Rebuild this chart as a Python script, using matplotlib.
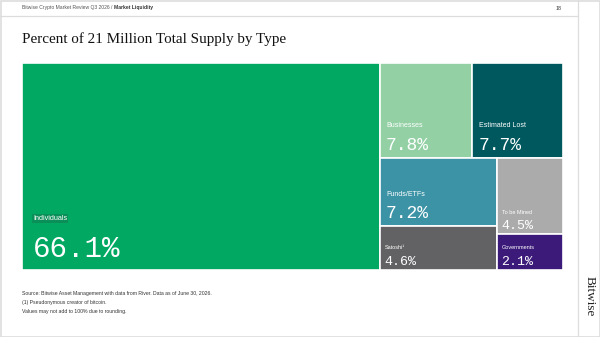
import matplotlib
matplotlib.use("Agg")
import matplotlib.pyplot as plt
from matplotlib.patches import Rectangle
from matplotlib.lines import Line2D

# data
labels = ["Individuals", "Businesses", "Estimated Lost", "Funds/ETFs",
          "Satoshi\u00b9", "To be Mined", "Governments"]
values = [66.1, 7.8, 7.7, 7.2, 4.6, 4.5, 2.1]
colors = ["#00a862", "#93d1a5", "#00585f", "#3c93a6",
          "#626264", "#ababab", "#3b1a7a"]
# how the boxes nest: 'h' splits left->right, 'v' splits top->bottom
layout = ("h", [0, ("v", [("h", [1, 2]),
                          ("h", [("v", [3, 4]), ("v", [5, 6])])])])

title = "Percent of 21 Million Total Supply by Type"
notes = ["Source: Bitwise Asset Management with data from River. Data as of June 30, 2026.",
         "(1) Pseudonymous creator of bitcoin.",
         "Values may not add to 100% due to rounding."]


def total(node):
    if isinstance(node, int):
        return values[node]
    return sum(total(c) for c in node[1])


def place(node, x, y, w, h, out):
    if isinstance(node, int):
        out[node] = (x, y, w, h)
        return
    kind, kids = node
    t = total(node)
    if kind == "h":
        cx = x
        for k in kids:
            kw = w * total(k) / t
            place(k, cx, y, kw, h, out)
            cx += kw
    else:
        cy = y + h
        for k in kids:
            kh = h * total(k) / t
            cy -= kh
            place(k, x, cy, w, kh, out)


W, H = 600, 337
fig = plt.figure(figsize=(6, 3.37), dpi=100)
fig.patch.set_facecolor("white")

ax = fig.add_axes([22 / W, (H - 270) / H, 541 / W, 207 / H])
ax.set_xlim(0, 1)
ax.set_ylim(0, 1)
ax.axis("off")

rects = {}
place(layout, 0, 0, 1, 1, rects)

for i, (x, y, w, h) in rects.items():
    ax.add_patch(Rectangle((x, y), w, h, facecolor=colors[i],
                           edgecolor="white", linewidth=1.2))
    v = values[i]
    box = None
    if v > 50:
        lab_fs, val_fs, dx, dy_val, dy_lab = 5.2, 21, 8, 9.5, 37
        box = dict(boxstyle="square,pad=0.15", facecolor="#0b8f58", edgecolor="none")
    elif v > 7:
        lab_fs, val_fs, dx, dy_val, dy_lab = 5, 13, 5, 5.8, 23
    else:
        lab_fs, val_fs, dx, dy_val, dy_lab = 4, 9.5, 3.6, 3.6, 16
    ax.annotate(labels[i], (x, y), xytext=(dx, dy_lab), textcoords="offset points",
                fontsize=lab_fs, color="white", va="center", ha="left",
                family="Liberation Sans", bbox=box)
    ax.annotate(f"{v}%", (x, y), xytext=(dx - 0.5, dy_val), textcoords="offset points",
                fontsize=val_fs, color="white", va="baseline", ha="left",
                family="Liberation Mono")

# title
fig.text(22 / W, 1 - 43 / H, title, fontsize=10.9, family="Liberation Serif",
         color="#111111", va="baseline", ha="left")

# header
hdr = fig.text(22 / W, 1 - 8 / H, "Bitwise Crypto Market Review Q3 2026 / ",
               fontsize=3.6, color="#555555", va="center", family="Liberation Sans")
ax.annotate("Market Liquidity", xy=(1, 0.5), xycoords=hdr, va="center", ha="left",
            fontsize=3.6, color="#333333", weight="bold", family="Liberation Sans",
            annotation_clip=False)
fig.text(559 / W, 1 - 8 / H, "18", fontsize=3.8, color="#333333",
         va="center", ha="center", family="Liberation Sans")

# footnotes
for k, line in enumerate(notes):
    fig.text(22 / W, 1 - (294 + 8.5 * k) / H, line, fontsize=3.7, color="#333333",
             va="center", ha="left", family="Liberation Sans")

# logo
fig.text(590 / W, 1 - 296 / H, "Bitwise", rotation=-90, fontsize=9.5,
         family="Liberation Serif", color="#222222", va="center", ha="center")

# page frame
line_c = "#dddddd"
fig.add_artist(Rectangle((0.5 / W, 0.5 / H), 1 - 1 / W, 1 - 1 / H, transform=fig.transFigure,
                         fill=False, edgecolor=line_c, linewidth=1.2))
fig.add_artist(Line2D([0, 578 / W], [1 - 16 / H, 1 - 16 / H], transform=fig.transFigure,
                      color=line_c, linewidth=0.9))
fig.add_artist(Line2D([578 / W, 578 / W], [0, 1], transform=fig.transFigure,
                      color=line_c, linewidth=0.9))

fig.savefig("out.png", dpi=100)
